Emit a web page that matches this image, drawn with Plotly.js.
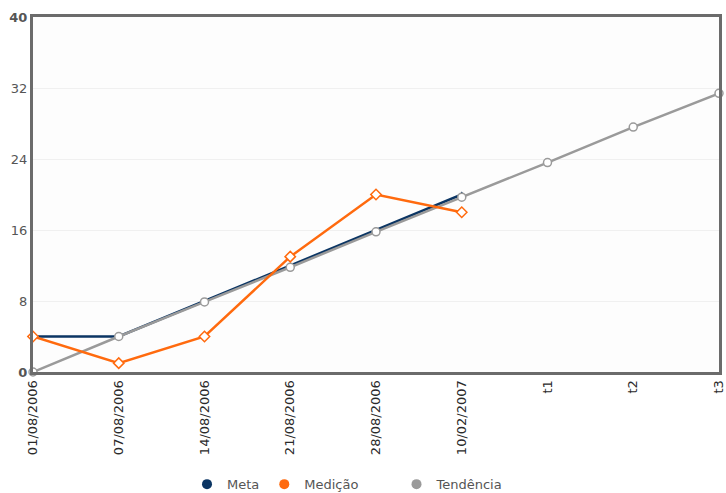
<!DOCTYPE html>
<html>
<head>
<meta charset="utf-8">
<script src="https://cdn.plot.ly/plotly-3.0.1.min.js"></script>
<style>html,body{margin:0;padding:0;background:#fff;}#chart{width:726px;height:493px;}</style>
</head>
<body>
<div id="chart"></div>
<script>
const categories = ["01/08/2006","07/08/2006","14/08/2006","21/08/2006","28/08/2006","10/02/2007","t1","t2","t3"];
const metaValues = [4, 4, 8, 12, 16, 20];
const medicaoValues = [4, 1, 4, 13, 20, 18];
const tendenciaValues = [0, 4, 7.9, 11.8, 15.8, 19.7, 23.6, 27.6, 31.4];
const yTickVals = [0, 8, 16, 24, 32, 40];
const yTickText = ["<b>0</b>", "8", "16", "24", "32", "<b>40</b>"];
const seriesNames = ["Meta", "Medição", "Tendência"];

const metaColor = "#0b3563";
const medColor = "#ff6a0e";
const tendColor = "#9a9a9a";
const pad = "\u00a0".repeat(8);

const traces = [
  {x: categories.slice(0, metaValues.length), y: metaValues, type: "scatter", mode: "lines+markers",
   line: {color: metaColor, width: 2.5}, marker: {symbol: "triangle-up", size: 6, color: metaColor},
   showlegend: false, cliponaxis: false},
  {x: categories, y: tendenciaValues, type: "scatter", mode: "lines+markers",
   line: {color: tendColor, width: 2.5}, marker: {symbol: "circle", size: 8, color: "#ffffff", line: {color: tendColor, width: 1.5}},
   showlegend: false, cliponaxis: false},
  {x: categories.slice(0, medicaoValues.length), y: medicaoValues, type: "scatter", mode: "lines+markers",
   line: {color: medColor, width: 2.5}, marker: {symbol: "diamond", size: 8, color: "#ffffff", line: {color: medColor, width: 1.5}},
   showlegend: false, cliponaxis: false},
  {x: [null], y: [null], type: "scatter", mode: "markers", name: seriesNames[0], marker: {symbol: "circle", size: 10, color: metaColor}},
  {x: [null], y: [null], type: "scatter", mode: "markers", name: seriesNames[1] + pad, marker: {symbol: "circle", size: 10, color: medColor}},
  {x: [null], y: [null], type: "scatter", mode: "markers", name: seriesNames[2], marker: {symbol: "circle", size: 10, color: tendColor}}
];

const layout = {
  width: 726, height: 493,
  margin: {l: 33, r: 7, t: 17, b: 121, autoexpand: false},
  paper_bgcolor: "#ffffff",
  plot_bgcolor: "#fdfdfd",
  font: {family: "DejaVu Sans, Verdana, sans-serif", color: "#444"},
  xaxis: {
    type: "category", categoryorder: "array", categoryarray: categories,
    range: [0, categories.length - 1],
    tickangle: -90, tickfont: {size: 13, color: "#2a2a2a", family: "DejaVu Sans, Verdana, sans-serif"},
    showgrid: false, zeroline: false,
    showline: true, linecolor: "#6b6b6b", linewidth: 3, mirror: true,
    ticks: "", ticklen: 0, automargin: false
  },
  yaxis: {
    range: [0, 40], tickvals: yTickVals, ticktext: yTickText,
    tickfont: {size: 13, color: "#555", family: "DejaVu Sans, Verdana, sans-serif"},
    showgrid: true, gridcolor: "#f0f0f0", gridwidth: 1, zeroline: false,
    showline: true, linecolor: "#6b6b6b", linewidth: 3, mirror: true,
    ticks: "", ticklen: 0, automargin: false
  },
  showlegend: true,
  legend: {orientation: "h", x: 0.2245, xanchor: "left", y: -0.316, yanchor: "middle",
    font: {size: 13, color: "#555", family: "DejaVu Sans, Verdana, sans-serif"},
    tracegroupgap: 0, bgcolor: "rgba(0,0,0,0)"}
};

Plotly.newPlot("chart", traces, layout, {displayModeBar: false, staticPlot: true});
</script>
</body>
</html>
